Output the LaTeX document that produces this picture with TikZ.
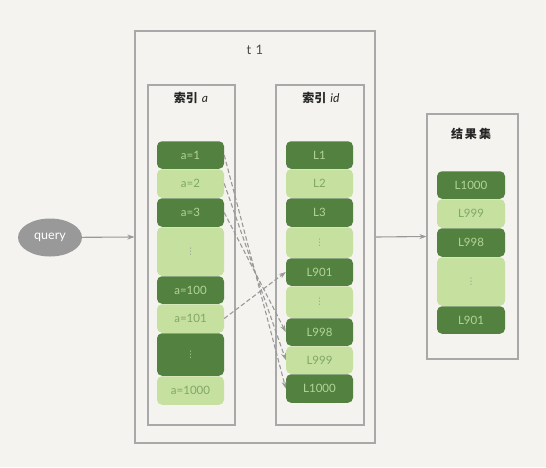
\documentclass[tikz,border=0pt]{standalone}
\usepackage{fontspec}
\setmainfont{Lato}
\newfontfamily\cjk{Noto Sans CJK SC}
\newfontfamily\dejavu{DejaVu Sans}
\usetikzlibrary{arrows.meta,shapes.geometric}
\definecolor{bg}{HTML}{F4F3EF}
\definecolor{dk}{HTML}{538140}
\definecolor{lt}{HTML}{C6E0A0}
\definecolor{dktext}{HTML}{B2D596}
\definecolor{lttext}{HTML}{7FA865}
\definecolor{boxline}{HTML}{A8A8A8}
\definecolor{arr}{HTML}{999999}
\newcommand{\mydots}{{\dejavu\fontsize{9}{9}\selectfont ⋮}}
\begin{document}
\begin{tikzpicture}[x=1pt,y=-1pt,
  frame/.style={draw=boxline,line width=1.1pt},
  cell/.style={rounded corners=5pt,inner sep=0pt,minimum width=67pt,font=\fontsize{11.5}{12}\selectfont},
  dcell/.style={cell,fill=dk,text=dktext},
  lcell/.style={cell,fill=lt,text=lttext},
  title/.style={font=\cjk\bfseries\fontsize{12}{13}\selectfont,text=black!85},
  conn/.style={draw=arr,line width=1.1pt,-{Stealth[length=7pt,width=5pt]}},
  dconn/.style={draw=arr,line width=1.1pt,dash pattern=on 4.5pt off 2.5pt,-{Stealth[length=7pt,width=5pt]}}]
\useasboundingbox[fill=bg] (0,0) rectangle (546,467);
% frames
\node[frame,inner sep=0pt,minimum width=240pt,minimum height=412pt] (t1) at (255,237) {};
\node[frame,inner sep=0pt,minimum width=87pt,minimum height=340pt] (ia) at (191.5,255) {};
\node[frame,inner sep=0pt,minimum width=88pt,minimum height=340pt] (iid) at (320,255) {};
\node[frame,inner sep=0pt,minimum width=91pt,minimum height=245pt] (res) at (472.5,236.5) {};
% titles
\node[text=black!70,font=\fontsize{13}{14}\selectfont] (tt) at (255,50) {t\,\,1};
\node[title] (ta) at (191,98) {索引\,\,{\rmfamily\mdseries\itshape a}};
\node[title] (tid) at (321,98) {索引\,\,{\rmfamily\mdseries\itshape id}};
\node[title] (tres) at (471,134) {结\,果\,集};
% index a cells
\node[dcell,minimum height=27.5pt] (a1) at (190.5,155) {a=1};
\node[lcell,minimum height=28.5pt] (a2) at (190.5,183.5) {a=2};
\node[dcell,minimum height=28.5pt] (a3) at (190.5,212.5) {a=3};
\node[lcell,minimum height=48.5pt,text=arr] (ad1) at (190.5,251.5) {\mydots};
\node[dcell,minimum height=27.5pt] (a100) at (190.5,290) {a=100};
\node[lcell,minimum height=28.5pt] (a101) at (190.5,318.5) {a=101};
\node[dcell,minimum height=42.5pt] (ad2) at (190.5,354.5) {\mydots};
\node[lcell,minimum height=28.5pt] (a1000) at (190.5,390.5) {a=1000};
% index id cells
\node[dcell,minimum height=27.5pt] (L1) at (319.5,155) {L1};
\node[lcell,minimum height=28.5pt] (L2) at (319.5,183.5) {L2};
\node[dcell,minimum height=28.5pt] (L3) at (319.5,212.5) {L3};
\node[lcell,minimum height=30.5pt,text=arr] (Ld1) at (319.5,242.5) {\mydots};
\node[dcell,minimum height=27.5pt] (L901) at (319.5,272) {L901};
\node[lcell,minimum height=31.5pt,text=arr] (Ld2) at (319.5,302) {\mydots};
\node[dcell,minimum height=27.5pt] (L998) at (319.5,332) {L998};
\node[lcell,minimum height=27.5pt] (L999) at (319.5,360) {L999};
\node[dcell,minimum height=28.5pt] (L1000) at (319.5,388.5) {L1000};
% result cells
\node[dcell,minimum height=27.5pt,minimum width=68pt] (r1) at (471,185) {L1000};
\node[lcell,minimum height=28.5pt,minimum width=68pt] (r2) at (471,213.5) {L999};
\node[dcell,minimum height=28.5pt,minimum width=68pt] (r3) at (471,242.5) {L998};
\node[lcell,minimum height=48.5pt,minimum width=68pt,text=arr] (rd) at (471,281.5) {\mydots};
\node[dcell,minimum height=27.5pt,minimum width=68pt] (r4) at (471,320) {L901};
% query
\node[ellipse,fill=arr,text=white,minimum width=64pt,minimum height=38pt,inner sep=0pt,font=\fontsize{12.5}{13}\selectfont] (q) at (50,237.5) {query};
% connectors
\draw[conn] (q) -- (t1.west);
\draw[conn] (t1.east) -- (res.west);
\draw[dconn] (a1.east) -- (L1000.west);
\draw[dconn] (a2.east) -- (L999.west);
\draw[dconn] (a3.east) -- (L998.west);
\draw[dconn] (a101.east) -- (L901.west);
\end{tikzpicture}
\end{document}
